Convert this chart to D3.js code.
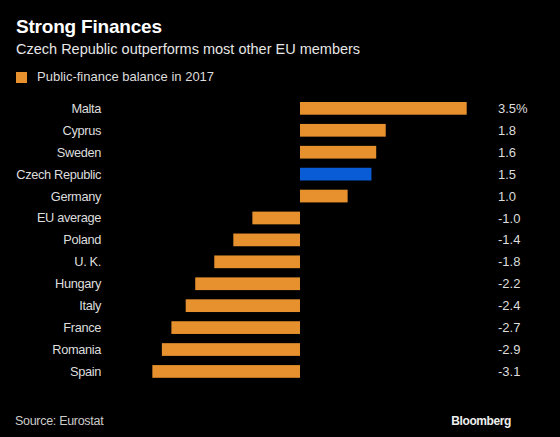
<!DOCTYPE html>
<html><head><meta charset="utf-8">
<script src="https://cdn.jsdelivr.net/npm/d3@7"></script>
<style>body{margin:0;background:#000}svg{display:block}</style>
</head><body><svg id="c" width="560" height="437"></svg>
<script>
const countries = ["Malta","Cyprus","Sweden","Czech Republic","Germany","EU average","Poland","U. K.","Hungary","Italy","France","Romania","Spain"];
const balance = [3.5,1.8,1.6,1.5,1.0,-1.0,-1.4,-1.8,-2.2,-2.4,-2.7,-2.9,-3.1];
const valueLabels = ["3.5%","1.8","1.6","1.5","1.0","-1.0","-1.4","-1.8","-2.2","-2.4","-2.7","-2.9","-3.1"];
const highlight = "Czech Republic";

const svg = d3.select("#c");
svg.append("rect").attr("width",560).attr("height",437).attr("fill","#000");
const font = "'Liberation Sans', Arial, sans-serif";
const orange = "#e6912e", blue = "#0a5cd6";

svg.append("text").attr("x",16).attr("y",33).attr("fill","#fff").attr("font-family",font)
  .attr("font-weight","bold").attr("font-size",19).attr("letter-spacing",-0.2).text("Strong Finances");
svg.append("text").attr("x",16).attr("y",54).attr("fill","#e6e6e6").attr("font-family",font)
  .attr("font-size",14.5).text("Czech Republic outperforms most other EU members");
svg.append("rect").attr("x",16).attr("y",72).attr("width",11).attr("height",11).attr("fill",orange);
svg.append("text").attr("x",37).attr("y",81).attr("fill","#ddd").attr("font-family",font)
  .attr("font-size",13).text("Public-finance balance in 2017");

const x = d3.scaleLinear().domain([0,3.5]).range([300,466.7]);
const y = d3.scaleBand().domain(countries).range([97.4,382.4]).paddingInner(0.42).paddingOuter(0.21);

svg.append("g").selectAll("rect").data(countries).join("rect")
  .attr("x",(d,i)=>x(Math.min(0,balance[i])))
  .attr("width",(d,i)=>Math.abs(x(balance[i])-x(0)))
  .attr("y",d=>y(d)).attr("height",y.bandwidth())
  .attr("fill",d=>d===highlight?blue:orange);

svg.append("g").selectAll("text").data(countries).join("text")
  .attr("x",101).attr("y",d=>y(d)+y.bandwidth()/2).attr("dy","0.35em")
  .attr("text-anchor","end").attr("fill","#ddd").attr("font-family",font).attr("font-size",12.8)
  .attr("letter-spacing",-0.35)
  .text(d=>d);

svg.append("g").selectAll("text").data(countries).join("text")
  .attr("x",498).attr("y",d=>y(d)+y.bandwidth()/2).attr("dy","0.35em")
  .attr("fill","#ddd").attr("font-family",font).attr("font-size",13)
  .text((d,i)=>valueLabels[i]);

svg.append("text").attr("x",15).attr("y",425).attr("fill","#ccc").attr("font-family",font)
  .attr("font-size",12.5).attr("letter-spacing",-0.3).text("Source: Eurostat");
svg.append("text").attr("x",511).attr("y",425).attr("text-anchor","end").attr("fill","#eee")
  .attr("font-family",font).attr("font-weight","bold").attr("font-size",12).attr("letter-spacing",-0.4).text("Bloomberg");
</script></body></html>
